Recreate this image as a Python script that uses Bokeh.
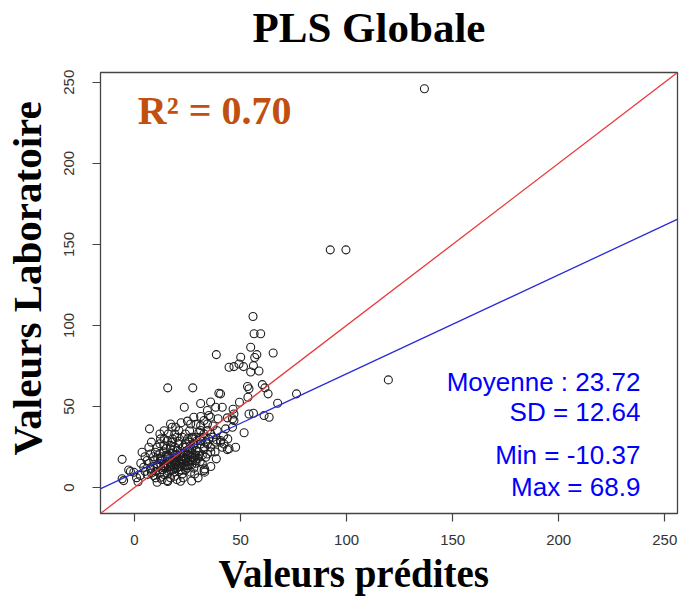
import math
from bokeh.plotting import figure
from bokeh.models import Range1d, FixedTicker, Slope, Label, Title
from bokeh.embed import file_html
from bokeh.resources import INLINE

# ---- data ----
pred = [136.7, 92.3, 99.7, 119.7, 76.4, 55.9, 56.4, 59.5, 54.8, 38.6, 50.1, 57.7, 56.7, 65.4,
        44.6, 46.9, 49.3, 51.4, 56.1, 54.8, 58.7, 15.7, 27.5, 39.8, 40.6, 53.3, 54.0, 60.3,
        61.5, 63.0, 67.5, 23.5, 31.2, 35.9, 38.3, 41.4, 49.5, 46.5, 53.5, 34.4, 35.1, 31.2,
        28.0, 39.4, 43.8, 46.2, 46.9, 54.0, 56.1, 61.1, 63.5, 17.0, 17.8, 19.4, 7.1, 26.5,
        31.2, 43.0, 46.2, 46.9, 51.7, -5.8, -2.7, -0.3, -1.9, -5.8, -5.1, 1.7, 1.0, 2.8,
        15.7, 21.7, 10.7, 28.4, 33.1, 33.1, 38.6, 42.2, 41.4, 44.6, 47.7, 40.6, 43.8, 38.8,
        40.6, 30.4, 32.8, 34.4, 22.5, 27.3, 29.6, 12.3, 15.5, 17.8, 20.9, 6.8, 10.7, 13.8,
        3.6, 7.6, 9.9, 17.0, 20.2, 24.1, 28.0, 31.2, 33.6, 6.0, 9.1, 12.3, 15.5, 20.2, 24.1,
        27.3, 30.4, 28.8, 32.0, 32.8, 4.4, 7.6, 10.7, 13.8, 17.0, 21.7, 24.9, 9.1, 12.3,
        15.5, 18.6, 22.5, 26.5, 15.5, 34.4, 35.9, 32.8, 38.3, 32.8, 34.4, 35.9, 31.2, 33.6,
        34.4,
        10, 11, 12, 13, 14, 15, 16, 16, 17, 18, 18, 19, 19, 20, 20, 21, 21, 22, 22, 22, 23,
        23, 24, 24, 25, 25, 26, 26, 27, 27, 28, 28, 29, 29, 30, 30, 31, 31, 32, 33, 13, 14,
        15, 16, 17, 18, 19, 11, 12, 9, 8, 7, 6, 5, 9, 10, 13, 14, 17, 19, 20, 23, 24, 26,
        27, 28, 29, 31, 23, 21, 25, 20, 18, 16, 14, 12, 35, 36, 37,
        19, 24, 26, 21, 14, 36, 39, 37, 42, 44, 25, 22, 29, 12, 8, 5, 3, 27, 30, 36, 38,
        12, 13, 14, 15, 15, 16, 17, 17, 18, 18, 19, 19, 20, 20, 21, 21, 22, 22, 23, 23,
        24, 24, 25, 25, 26, 26, 27, 27, 28, 29]
lab = [246.0, 146.6, 146.6, 66.4, 57.8, 105.5, 94.9, 94.9, 86.5, 82.0, 80.4, 82.0, 80.2, 83.0,
       74.2, 74.6, 76.2, 74.6, 75.2, 71.3, 71.9, 61.5, 61.5, 58.2, 57.8, 62.3, 60.9, 63.5,
       61.5, 57.8, 52.0, 49.5, 51.8, 52.8, 49.5, 49.5, 52.6, 48.3, 55.7, 47.5, 44.4, 43.8,
       43.4, 42.4, 43.0, 42.4, 45.4, 45.4, 45.8, 44.4, 43.4, 39.2, 37.2, 37.2, 36.2, 39.2,
       38.2, 36.2, 37.2, 41.4, 33.8, 17.4, 10.8, 9.4, 9.9, 5.4, 4.3, 3.6, 6.1, 7.4,
       3.7, 3.9, 3.3, 8.4, 11.5, 9.5, 17.7, 26.9, 24.9, 23.9, 24.9, 28.0, 23.4, 29.4,
       29.0, 34.2, 33.1, 35.2, 31.0, 30.0, 29.0, 30.0, 29.0, 28.0, 28.6, 24.9, 24.9, 25.9,
       21.8, 20.7, 21.8, 23.9, 22.9, 24.9, 25.9, 26.9, 28.0, 16.7, 16.7, 17.7, 18.7, 18.7, 17.7,
       18.7, 19.7, 16.7, 14.6, 10.5, 12.5, 11.5, 12.5, 13.5, 14.5, 14.5, 13.5, 7.4, 6.4,
       8.4, 9.5, 8.4, 9.5, 4.3, 26.9, 24.9, 23.9, 28.0, 41.4, 39.2, 43.4, 35.2, 18.7,
       20.7,
       10, 14, 9, 11, 15, 12, 10, 16, 13, 11, 17, 15, 20, 12, 16, 19, 10, 13, 17, 21, 15,
       19, 11, 22, 16, 20, 14, 24, 17, 21, 12, 20, 23, 15, 18, 22, 16, 29, 20, 25, 19, 22,
       24, 20, 26, 21, 25, 18, 21, 13, 9, 15, 8, 10, 19, 6, 5, 8, 6, 7, 5, 6, 27, 28,
       31, 27, 31, 31, 25, 27, 30, 31, 30, 33, 30, 27, 30, 22, 31,
       33, 33, 35, 35, 35, 33, 35, 38, 32, 30, 41, 40, 39, 33, 28, 19, 15, 4, 6, 13, 22,
       15, 17, 12, 14, 20, 13, 18, 11, 14, 23, 12, 17, 14, 20, 13, 16, 19, 11, 17, 21,
       14, 18, 12, 23, 17, 20, 14, 24, 18, 20]

axis_lim = [-16.0, 256.0]
ticks = [0, 50, 100, 150, 200, 250]
reg_intercept = 9.05
reg_slope = 0.611
stats_lines = ["Moyenne : 23.72", "SD = 12.64", "Min = -10.37", "Max = 68.9"]
stats_y = [65.0, 46.3, 19.8, 0.4]
r2_text = "R\u00b2 = 0.70"
title_text = "PLS Globale"
xlabel_text = "Valeurs prédites"
ylabel_text = "Valeurs Laboratoire"

p = figure(width=686, height=597, output_backend="svg", toolbar_location=None,
           x_range=Range1d(*axis_lim), y_range=Range1d(*axis_lim),
           min_border_left=100, min_border_right=9, min_border_top=72, min_border_bottom=84)
p.grid.visible = False
p.outline_line_color = "#444444"
p.outline_line_width = 1.3
p.background_fill_color = "white"
p.border_fill_color = "white"

for ax in (p.xaxis[0], p.yaxis[0]):
    ax.ticker = FixedTicker(ticks=ticks)
    ax.axis_line_color = None
    ax.major_tick_in = 0
    ax.major_tick_out = 8
    ax.major_tick_line_color = "#444444"
    ax.major_tick_line_width = 1.2
    ax.minor_tick_line_color = None
    ax.major_label_text_font = "Liberation Sans"
    ax.major_label_text_font_size = "15px"
    ax.major_label_text_color = "#333333"
p.xaxis.major_label_standoff = 13
p.yaxis.major_label_orientation = "vertical"
p.yaxis.major_label_standoff = 18

p.scatter(pred, lab, marker="circle", size=8, fill_color=None,
          line_color="#1e1e1e", line_width=1.1)

p.add_layout(Slope(gradient=1, y_intercept=0, line_color="#e8383c", line_width=1.3))
p.add_layout(Slope(gradient=reg_slope, y_intercept=reg_intercept,
                   line_color="#2a2ad8", line_width=1.3))

# title and axis titles as Title panels
p.add_layout(Title(text=title_text, align="left", offset=152, standoff=0,
                   padding=dict(left=0, right=0, top=0, bottom=22),
                   text_font="Liberation Serif", text_font_style="bold",
                   text_font_size="43px", text_color="black"), "above")
p.add_layout(Title(text=xlabel_text, align="left", offset=118, standoff=0,
                   vertical_align="top",
                   padding=dict(left=0, right=0, top=4, bottom=0),
                   text_font="Liberation Serif", text_font_style="bold",
                   text_font_size="39px", text_color="black"), "below")
p.add_layout(Title(text=ylabel_text, align="left", offset=58, standoff=2,
                   padding=dict(left=0, right=0, top=0, bottom=11),
                   text_font="Liberation Serif", text_font_style="bold",
                   text_font_size="41px", text_color="black"), "left")

p.add_layout(Label(x=1.6, y=232.8, text=r2_text, text_align="left",
                   text_baseline="alphabetic", text_font="Liberation Serif",
                   text_font_style="bold", text_font_size="40px", text_color="#c0500f"))

for t, yy in zip(stats_lines, stats_y):
    p.add_layout(Label(x=238.5, y=yy, text=t, text_align="right",
                       text_baseline="alphabetic", text_font="Liberation Sans",
                       text_font_size="26px", text_color="#0000ff"))

open("out.html", "w").write(file_html(p, INLINE))
